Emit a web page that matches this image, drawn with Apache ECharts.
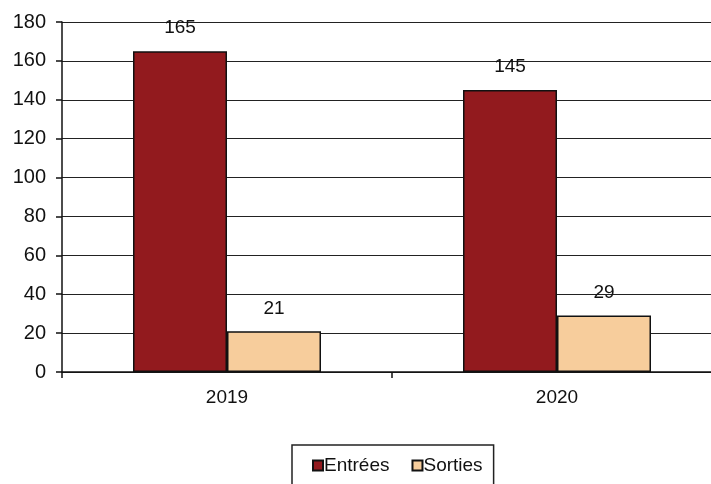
<!DOCTYPE html>
<html><head><meta charset="utf-8">
<script src="https://cdn.jsdelivr.net/npm/echarts@6/dist/echarts.min.js"></script>
<style>html,body{margin:0;padding:0;background:#fff;overflow:hidden}#c{width:722px;height:484px}</style>
</head><body><div id="c"></div>
<script>
var categories = ['2019', '2020'];
var entrees = [165, 145];
var sorties = [21, 29];
var yTicks = [0, 180, 20];

var chart = echarts.init(document.getElementById('c'), null, {renderer: 'canvas'});
var font = 'Liberation Sans, Arial, sans-serif';
chart.setOption({
  animation: false,
  backgroundColor: '#fff',
  grid: {left: 62, right: 0, top: 22, bottom: 112, containLabel: false},
  legend: {
    top: 445, left: 292,
    data: ['Entrées', 'Sorties'],
    itemWidth: 10, itemHeight: 10, itemGap: 22,
    icon: 'rect',
    borderColor: '#222', borderWidth: 1.5,
    padding: [11, 11, 30, 20],
    textStyle: {fontFamily: font, fontSize: 19, color: '#111', padding: [0, 0, 0, -4]}
  },
  xAxis: {
    type: 'category', data: categories,
    axisLine: {lineStyle: {color: '#111', width: 1.5}},
    axisTick: {show: true, length: 6, lineStyle: {color: '#111', width: 1.5}},
    axisLabel: {fontFamily: font, fontSize: 19, color: '#111', margin: 16}
  },
  yAxis: {
    type: 'value', min: yTicks[0], max: yTicks[1], interval: yTicks[2],
    axisLine: {show: true, lineStyle: {color: '#111', width: 1.5}},
    axisTick: {show: true, length: 6, lineStyle: {color: '#111', width: 1.5}},
    splitLine: {lineStyle: {color: '#222', width: 1.2}},
    axisLabel: {fontFamily: font, fontSize: 20, color: '#111', margin: 16}
  },
  series: [
    {name: 'Entrées', type: 'bar', data: entrees, barWidth: 94, barGap: '0%',
     itemStyle: {color: '#921A1E', borderColor: '#111', borderWidth: 1.5},
     label: {show: true, position: 'top', distance: 14, fontFamily: font, fontSize: 19, color: '#111'}},
    {name: 'Sorties', type: 'bar', data: sorties, barWidth: 94, barGap: '0%',
     itemStyle: {color: '#F7CD9C', borderColor: '#111', borderWidth: 1.5},
     label: {show: true, position: 'top', distance: 13, fontFamily: font, fontSize: 19, color: '#111'}}
  ]
});
</script></body></html>
